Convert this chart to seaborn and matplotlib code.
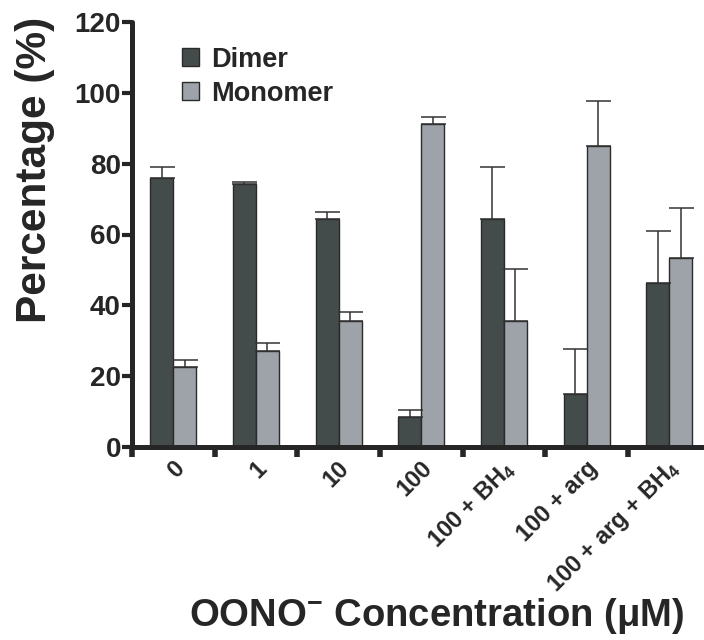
import matplotlib
matplotlib.use("Agg")
import matplotlib.pyplot as plt
import matplotlib.transforms as mtransforms
import numpy as np
import pandas as pd
import seaborn as sns

conditions = ["0", "1", "10", "100", "100 + BH$_4$", "100 + arg", "100 + arg + BH$_4$"]
species = ["Dimer", "Monomer"]
dimer = [76.0, 74.2, 64.4, 8.5, 64.4, 15.0, 46.4]
dimer_err = [3.1, 0.5, 1.9, 1.9, 14.7, 12.8, 14.6]
monomer = [22.6, 27.1, 35.5, 91.3, 35.5, 84.9, 53.5]
monomer_err = [2.0, 2.3, 2.5, 1.9, 14.7, 12.8, 14.1]
colors = ["#444c4b", "#9da3a9"]

df = pd.DataFrame({
    "condition": conditions * 2,
    "species": ["Dimer"] * len(conditions) + ["Monomer"] * len(conditions),
    "value": dimer + monomer,
})

sns.set_style("ticks")
plt.rcParams["font.family"] = ["Liberation Sans", "DejaVu Sans"]
plt.rcParams["font.weight"] = "bold"
plt.rcParams["mathtext.fontset"] = "custom"
plt.rcParams["mathtext.rm"] = "Liberation Sans:bold"
plt.rcParams["mathtext.bf"] = "Liberation Sans:bold"
plt.rcParams["mathtext.default"] = "bf"

fig = plt.figure(figsize=(7.04, 6.40), dpi=100)
ax = fig.add_axes([132 / 704, 1 - 447 / 640, 1 - 132 / 704, 425 / 640])

sns.barplot(data=df, x="condition", y="value", hue="species", order=conditions,
            hue_order=species, palette=colors, width=0.556, errorbar=None,
            edgecolor="#2a2a2a", linewidth=1.0, saturation=1, ax=ax)

# upper-only error bars with caps
for cont, errs in zip(ax.containers, [dimer_err, monomer_err]):
    xs = [b.get_x() + b.get_width() / 2 for b in cont]
    ys = [b.get_height() for b in cont]
    ax.errorbar(xs, ys, yerr=[np.zeros(len(errs)), errs], fmt="none",
                ecolor="#333333", elinewidth=1.1, capsize=9, capthick=1.1, zorder=1)

ax.set_ylim(0, 120)
ax.set_xlim(-0.5, 6.42)
ax.set_yticks(np.arange(0, 121, 20))
ax.tick_params(axis="y", labelsize=20, width=3, length=7, pad=1)
ax.set_xticks(np.arange(len(conditions)))
ax.set_xticks(np.arange(-0.5, 6.0, 1.0), minor=True)
ax.tick_params(axis="x", which="major", length=0, labelsize=17, pad=13)
ax.tick_params(axis="x", which="minor", length=7, width=4, direction="out")
shift = mtransforms.ScaledTranslation(0.07, 0, fig.dpi_scale_trans)
for lab in ax.get_xticklabels():
    lab.set_rotation(45)
    lab.set_ha("right")
    lab.set_va("center")
    lab.set_rotation_mode("anchor")
    lab.set_transform(lab.get_transform() + shift)
for lab in ax.get_xticklabels() + ax.get_yticklabels():
    lab.set_fontweight("bold")

sns.despine(ax=ax)
for side in ["left", "bottom"]:
    ax.spines[side].set_linewidth(3.6)
    ax.spines[side].set_capstyle("round")

ax.set_ylabel("Percentage (%)", fontsize=30.5, fontweight="bold", va="center")
ax.yaxis.set_label_coords(-0.17, 0.652)
ax.set_xlabel("OONO$^{-}$ Concentration (μM)", fontsize=27.5, fontweight="bold", va="center")
ax.xaxis.set_label_coords(0.533, -0.397)

leg = ax.legend(loc="upper left", bbox_to_anchor=(0.044, 0.999), frameon=False,
                handlelength=0.65, handleheight=0.65, handletextpad=0.45,
                labelspacing=0.3, prop={"size": 19.5, "weight": "bold"})
for h in leg.legend_handles:
    h.set_edgecolor("#2a2a2a")
    h.set_linewidth(1.0)

fig.savefig("out.png", dpi=100)
